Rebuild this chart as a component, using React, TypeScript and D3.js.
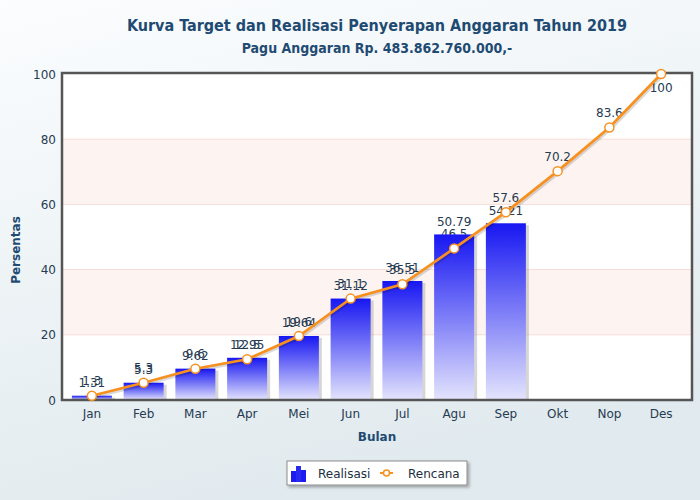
import React from "react";
import * as d3 from "d3";

const months = ["Jan", "Feb", "Mar", "Apr", "Mei", "Jun", "Jul", "Agu", "Sep", "Okt", "Nop", "Des"];
const realisasi = [1.31, 5.3, 9.62, 12.95, 19.64, 31.12, 36.51, 50.79, 54.21];
const rencana = [1.3, 5.3, 9.6, 12.5, 19.6, 31.1, 35.5, 46.5, 57.6, 70.2, 83.6, 100];
const yTicks = [0, 20, 40, 60, 80, 100];
const title = "Kurva Target dan Realisasi Penyerapan Anggaran Tahun 2019";
const subtitle = "Pagu Anggaran Rp. 483.862.760.000,-";

const W = 700, H = 500;
const P = { left: 62, right: 692, top: 73, bottom: 400 };
const FONT = "'DejaVu Sans', Verdana, sans-serif";
const LABEL = "#263b52";
const TITLE = "#1f4b73";
const ORANGE = "#f7901e";

export default function App() {
  const x = d3.scalePoint<string>().domain(months).range([66, 687]).padding(0.5);
  const y = d3.scaleLinear().domain([0, 100]).range([P.bottom, P.top + 1]);
  const bw = 40;
  const line = d3.line<number>().x((_, i) => x(months[i])!).y((d) => y(d));
  const bands = d3.pairs(yTicks);

  return (
    <div style={{ position: "absolute", left: 0, top: 0 }}>
      <svg width={W} height={H} style={{ display: "block" }}>
        <defs>
          <linearGradient id="bg" x1="0" y1="0" x2="0.35" y2="1">
            <stop offset="0%" stopColor="#fbfdfe" />
            <stop offset="100%" stopColor="#e1eaee" />
          </linearGradient>
          <linearGradient id="bar" x1="0" y1="0" x2="0" y2="1">
            <stop offset="0%" stopColor="#1717f2" />
            <stop offset="100%" stopColor="#e4e4fd" />
          </linearGradient>
          <filter id="sh" x="-20%" y="-20%" width="150%" height="150%">
            <feDropShadow dx="2" dy="2" stdDeviation="1.5" floodColor="#000" floodOpacity="0.3" />
          </filter>
        </defs>
        <rect x={0} y={0} width={W} height={H} fill="url(#bg)" />

        <text x={377} y={31} textAnchor="middle" fontFamily="'DejaVu Sans Condensed', 'DejaVu Sans', sans-serif" fontWeight="bold" fontSize={16} fill={TITLE}>{title}</text>
        <text x={377} y={53} textAnchor="middle" fontFamily="'DejaVu Sans Condensed', 'DejaVu Sans', sans-serif" fontWeight="bold" fontSize={14} fill={TITLE}>{subtitle}</text>

        {/* plot background */}
        <rect x={P.left} y={P.top} width={P.right - P.left} height={P.bottom - P.top} fill="#ffffff" />
        {bands.map(([a, b], i) =>
          i % 2 === 1 ? (
            <rect key={"b" + i} x={P.left} y={y(b)} width={P.right - P.left} height={y(a) - y(b)} fill="#fdf4f1" />
          ) : null
        )}
        {yTicks.slice(1, -1).map((t) => (
          <line key={"g" + t} x1={P.left} x2={P.right} y1={y(t)} y2={y(t)} stroke="#f6dcd6" strokeWidth={1} />
        ))}

        {/* y axis labels */}
        {yTicks.map((t) => (
          <text key={"yt" + t} x={56} y={y(t) + 4.5} textAnchor="end" fontFamily={FONT} fontSize={12} fill={LABEL}>{t}</text>
        ))}
        <text transform={`translate(16,250) rotate(-90)`} dy="0.35em" textAnchor="middle" fontFamily={FONT} fontWeight="bold" fontSize={12} fill={TITLE}>Persentas</text>

        {/* line labels (behind bars) */}
        {rencana.map((v, i) => {
          const py = y(v);
          const ly = py - 15 < P.top + 6 ? py + 13 : py - 15;
          return (
            <text key={"rl" + i} x={x(months[i])!} y={ly + 4.5} textAnchor="middle" fontFamily={FONT} fontSize={12} fill={LABEL}>{v}</text>
          );
        })}

        {/* bars */}
        {realisasi.map((v, i) => (
          <g key={"bar" + i}>
            <rect x={x(months[i])! - bw / 2 + 3} y={y(v) + 2} width={bw} height={P.bottom - y(v) - 2} fill="#8a8a8a" opacity={0.35} />
            <rect x={x(months[i])! - bw / 2} y={y(v)} width={bw} height={P.bottom - y(v)} fill="url(#bar)" />
          </g>
        ))}
        {realisasi.map((v, i) => (
          <text key={"bl" + i} x={x(months[i])!} y={y(v) - 13 + 4.5} textAnchor="middle" fontFamily={FONT} fontSize={12} fill={LABEL}>{v}</text>
        ))}

        {/* frame */}
        <rect x={P.left} y={P.top} width={P.right - P.left} height={P.bottom - P.top} fill="none" stroke="#555" strokeWidth={2.5} />

        {/* line */}
        <path d={line(rencana)!} fill="none" stroke="#000" strokeOpacity={0.15} strokeWidth={3} transform="translate(1.5,1.5)" />
        <path d={line(rencana)!} fill="none" stroke={ORANGE} strokeWidth={2.7} />
        {rencana.map((v, i) => (
          <circle key={"c" + i} cx={x(months[i])!} cy={y(v)} r={4.5} fill="#fff" stroke={ORANGE} strokeWidth={1.5} />
        ))}

        {/* x labels */}
        {months.map((m) => (
          <text key={"xl" + m} x={x(m)!} y={418} textAnchor="middle" fontFamily={FONT} fontSize={12} fill={LABEL}>{m}</text>
        ))}
        <text x={377} y={441} textAnchor="middle" fontFamily={FONT} fontWeight="bold" fontSize={12} fill={TITLE}>Bulan</text>

        {/* legend */}
        <g>
          <rect x={287} y={461} width={180} height={24} fill="#fff" stroke="#8c8c8c" strokeWidth={1} filter="url(#sh)" />
          <rect x={291} y={471} width={5} height={11} fill="#1c1cf0" />
          <rect x={296} y={466} width={5} height={16} fill="#2a2af2" />
          <rect x={301} y={470} width={5} height={12} fill="#1c1cf0" />
          <text x={318} y={478} fontFamily={FONT} fontSize={12} fill="#1c2e40">Realisasi</text>
          <line x1={380} x2={393} y1={473} y2={473} stroke={ORANGE} strokeWidth={2} strokeDasharray="3,2" />
          <circle cx={386.5} cy={473} r={3} fill="#fff" stroke={ORANGE} strokeWidth={1.5} />
          <text x={408} y={478} fontFamily={FONT} fontSize={12} fill="#1c2e40">Rencana</text>
        </g>
      </svg>
    </div>
  );
}
